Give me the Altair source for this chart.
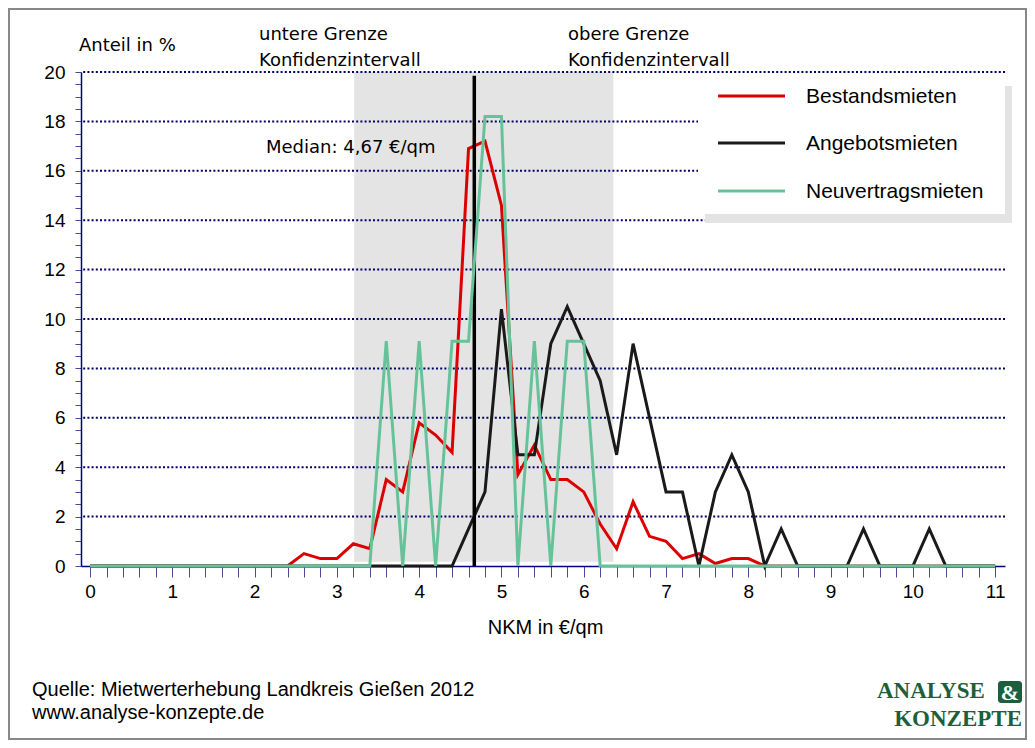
import altair as alt
import pandas as pd

# ---------------- data ----------------
NKM = [0.0, 0.2, 0.4, 0.6, 0.8, 1.0, 1.2, 1.4, 1.6, 1.8,
       2.0, 2.2, 2.4, 2.6, 2.8, 3.0, 3.2, 3.4, 3.6, 3.8,
       4.0, 4.2, 4.4, 4.6, 4.8, 5.0, 5.2, 5.4, 5.6, 5.8,
       6.0, 6.2, 6.4, 6.6, 6.8, 7.0, 7.2, 7.4, 7.6, 7.8,
       8.0, 8.2, 8.4, 8.6, 8.8, 9.0, 9.2, 9.4, 9.6, 9.8,
       10.0, 10.2, 10.4, 10.6, 10.8, 11.0]

BESTAND = [0, 0, 0, 0, 0, 0, 0, 0, 0, 0,
           0, 0, 0, 0.5, 0.3, 0.3, 0.9, 0.7, 3.5, 3.0,
           5.8, 5.3, 4.6, 16.9, 17.2, 14.6, 3.7, 4.9, 3.5, 3.5,
           3.0, 1.7, 0.7, 2.6, 1.2, 1.0, 0.3, 0.5, 0.1, 0.3,
           0.3, 0, 0, 0, 0, 0, 0, 0, 0, 0,
           0, 0, 0, 0, 0, 0]

ANGEBOT = [0, 0, 0, 0, 0, 0, 0, 0, 0, 0,
           0, 0, 0, 0, 0, 0, 0, 0, 0, 0,
           0, 0, 0, 1.5, 3.0, 10.4, 4.5, 4.5, 9.0, 10.5,
           9.0, 7.5, 4.5, 9.0, 6.0, 3.0, 3.0, 0, 3.0, 4.5,
           3.0, 0, 1.5, 0, 0, 0, 0, 1.5, 0, 0,
           0, 1.5, 0, 0, 0, 0]

NEUVERTRAG = [0, 0, 0, 0, 0, 0, 0, 0, 0, 0,
              0, 0, 0, 0, 0, 0, 0, 0, 9.1, 0,
              9.1, 0, 9.1, 9.1, 18.2, 18.2, 0, 9.1, 0, 9.1,
              9.1, 0, 0, 0, 0, 0, 0, 0, 0, 0,
              0, 0, 0, 0, 0, 0, 0, 0, 0, 0,
              0, 0, 0, 0, 0, 0]

SERIES = ["Bestandsmieten", "Angebotsmieten", "Neuvertragsmieten"]
COLORS = ["#dd0000", "#1a1a1a", "#66c399"]
MEDIAN = 4.67
CI_LOW = 3.21
CI_HIGH = 6.36
GRID_Y = [2, 4, 6, 8, 10, 12, 14, 16, 18, 20]
X_TICKS = NKM
Y_TICKS = [i * 0.5 for i in range(41)]

SOURCE_LINES = ["Quelle: Mietwerterhebung Landkreis Gießen 2012", "www.analyse-konzepte.de"]

rows = []
for name, vals in zip(SERIES, [BESTAND, ANGEBOT, NEUVERTRAG]):
    for xv, yv in zip(NKM, vals):
        rows.append({"nkm": xv, "anteil": yv, "series": name})
df = pd.DataFrame(rows)

one = pd.DataFrame({"a": [0]})

xs = alt.Scale(domain=[-0.11, 11.12], nice=False, zero=False)
ys = alt.Scale(domain=[0, 20], nice=False, zero=False)
cs = alt.Scale(domain=SERIES, range=COLORS)

NAVY = "#000080"
TICK = "#4a4a98"

x_axis = alt.Axis(values=X_TICKS, tickCount=200,
                  labelExpr="datum.value % 1 == 0 ? format(datum.value, 'd') : ''",
                  grid=False, tickSize=11, tickColor=TICK, tickWidth=1,
                  domainColor=NAVY, domainWidth=1.5,
                  labelFont="Liberation Sans", labelFontSize=19, labelColor="black",
                  labelPadding=5, labelOverlap=False, labelFlush=False,
                  title="NKM in €/qm", titleFont="Liberation Sans", titleFontSize=20,
                  titleFontWeight="normal", titleColor="black",
                  titleX=464, titleY=67, titleBaseline="alphabetic", titleAlign="center")

y_axis = alt.Axis(values=Y_TICKS, tickCount=200,
                  labelExpr="datum.value % 2 == 0 ? format(datum.value, 'd') : ''",
                  grid=False, tickSize=6, tickColor=TICK, tickWidth=1,
                  domainColor=NAVY, domainWidth=1.5,
                  labelFont="Liberation Sans", labelFontSize=19, labelColor="black",
                  labelPadding=10, labelOverlap=False, labelFlush=False, title=None)

# confidence band
band = alt.Chart(pd.DataFrame({"x": [CI_LOW], "x2": [CI_HIGH], "y": [0.17], "y2": [20]})).mark_rect(
    color="#e4e4e4").encode(
    x=alt.X("x:Q", scale=xs, axis=x_axis),
    x2="x2:Q",
    y=alt.Y("y:Q", scale=ys, axis=y_axis),
    y2="y2:Q",
)

grid = alt.Chart(pd.DataFrame({"g": GRID_Y})).mark_rule(
    strokeDash=[2, 2.2], strokeWidth=2, color="#000066").encode(
    y=alt.Y("g:Q", scale=ys)
)

# legend box (shadow + white)
leg_shadow = alt.Chart(one).mark_rect(color="#e3e3e3").encode(
    x=alt.value(624), x2=alt.value(931), y=alt.value(14), y2=alt.value(151))
leg_box = alt.Chart(one).mark_rect(color="white").encode(
    x=alt.value(617), x2=alt.value(924), y=alt.value(7), y2=alt.value(142))


def series_line(name):
    return alt.Chart(df).transform_filter(alt.datum.series == name).mark_line(
        strokeWidth=3, strokeJoin="miter").encode(
        x=alt.X("nkm:Q", scale=xs),
        y=alt.Y("anteil:Q", scale=ys),
        color=alt.Color("series:N", scale=cs, legend=None),
    )


median = alt.Chart(pd.DataFrame({"m": [MEDIAN], "y0": [0], "y1": [19.85]})).mark_rule(
    strokeWidth=3.5, color="black").encode(
    x=alt.X("m:Q", scale=xs), y=alt.Y("y0:Q", scale=ys), y2="y1:Q")

layers = [band, grid, leg_shadow, leg_box,
          series_line(SERIES[0]), series_line(SERIES[1]), median, series_line(SERIES[2])]

# manual legend entries
LEG_ROWS = [24, 71, 119]
for name, col, ly in zip(SERIES, COLORS, LEG_ROWS):
    layers.append(alt.Chart(one).mark_rule(strokeWidth=3, color=col).encode(
        x=alt.value(637), x2=alt.value(704), y=alt.value(ly)))
    layers.append(alt.Chart(one).mark_text(
        align="left", baseline="middle", font="Liberation Sans", fontSize=21, color="black").encode(
        x=alt.value(725), y=alt.value(ly + 1), text=alt.value(name)))


def txt(s, x, y, font="DejaVu Sans", size=18, align="left", baseline="alphabetic",
        color="black", weight="normal"):
    return alt.Chart(one).mark_text(align=align, baseline=baseline, font=font,
                                    fontSize=size, color=color, fontWeight=weight).encode(
        x=alt.value(x), y=alt.value(y), text=alt.value(s))


layers += [
    txt("Anteil in %", -2, -21),
    txt("untere Grenze", 178, -32),
    txt("Konfidenzintervall", 178, -6),
    txt("obere Grenze", 487, -32),
    txt("Konfidenzintervall", 487, -6),
    txt("Median: 4,67 €/qm", 185, 81),
    txt(SOURCE_LINES[0], -49, 624, font="Liberation Sans", size=20),
    txt(SOURCE_LINES[1], -49, 647, font="Liberation Sans", size=20),
]

# logo
LOGO_GREEN = "#1d5f3d"
layers += [
    txt("ANALYSE", 796, 626, font="Liberation Serif", size=23, color=LOGO_GREEN, weight="bold"),
    txt("KONZEPTE", 941, 654, font="Liberation Serif", size=23, color=LOGO_GREEN, weight="bold",
        align="right"),
    alt.Chart(one).mark_rect(color=LOGO_GREEN, cornerRadius=3).encode(
        x=alt.value(917), x2=alt.value(941), y=alt.value(609), y2=alt.value(631)),
    txt("&", 929, 621, font="Liberation Serif", size=22, color="white", weight="bold",
        align="center", baseline="middle"),
]

# outer frame
layers.append(alt.Chart(one).mark_rect(fill=None, stroke="#888888", strokeWidth=2).encode(
    x=alt.value(-72), x2=alt.value(945), y=alt.value(-63), y2=alt.value(667)))

chart = alt.layer(*layers).properties(
    width=924, height=494,
    autosize=alt.AutoSizeParams(type="none"),
    padding={"left": 73, "top": 64, "right": 22, "bottom": 174},
    background="white",
).configure_view(stroke=None)

chart.save("out.html", embed_options={"renderer": "svg", "actions": False})
